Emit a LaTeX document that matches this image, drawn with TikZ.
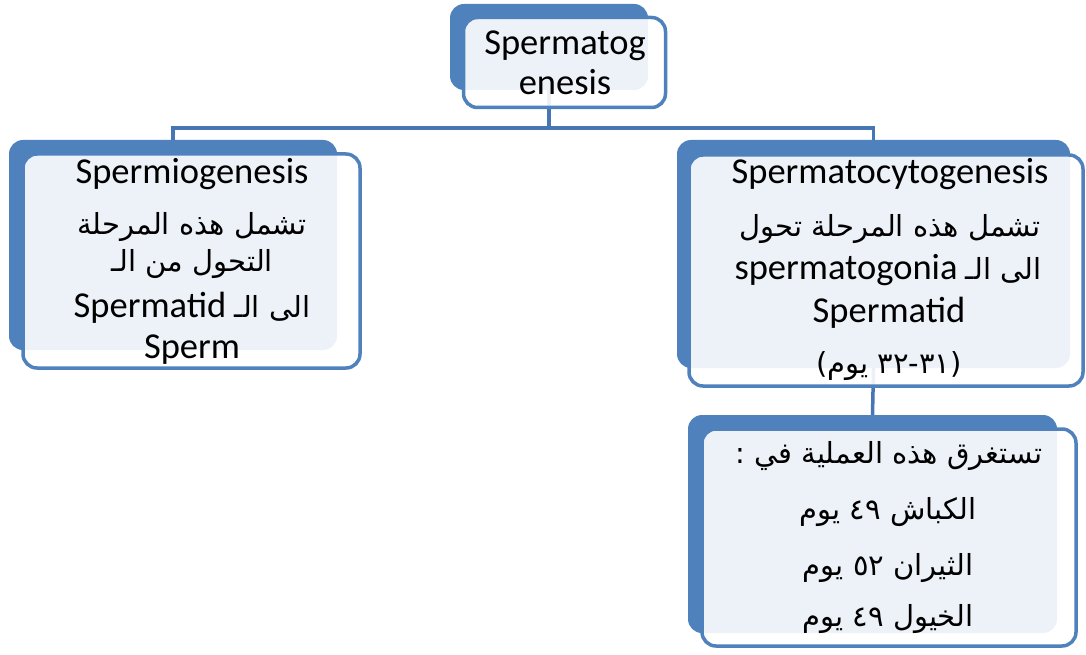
\documentclass[tikz,border=0pt]{standalone}
\usepackage{fontspec}
\setmainfont{Carlito}
\newfontfamily\arfont[Script=Arabic]{DejaVu Sans}
\newfontfamily\numfont{DejaVu Sans}
\TeXXeTstate=1
\usetikzlibrary{backgrounds}
\definecolor{boxblue}{HTML}{4F81BD}
\definecolor{lineblue}{HTML}{4677B4}
\newcommand{\arsz}{\arfont\fontsize{29}{34}\selectfont}
\newcommand{\nm}[1]{\hbox{\numfont\fontsize{29}{34}\selectfont #1}}
\begin{document}
\begin{tikzpicture}[x=1pt,y=-1pt,
  backbox/.style={fill=boxblue, rounded corners=14pt, inner sep=0pt, outer sep=0pt},
  frontbox/.style={draw=boxblue, line width=3.5pt, fill=white, fill opacity=0.9, rounded corners=14pt, inner sep=0pt, outer sep=0pt},
  conn/.style={draw=lineblue, line width=3.5pt},
  lat/.style={font=\fontsize{36.5}{40}\selectfont, anchor=base, inner sep=0pt, text=black},
  arb/.style={font=\arsz, anchor=base, inner sep=0pt, text=black}]
\useasboundingbox (0,0) rectangle (1086,655);
% top
\node[backbox, minimum width=198pt, minimum height=86pt] (topB) at (549,47) {};
\node[frontbox, minimum width=202pt, minimum height=90pt] (topF) at (564.5,62.5) {};
% left
\node[backbox, minimum width=328pt, minimum height=210pt] (leftB) at (173,245) {};
\node[frontbox, minimum width=337pt, minimum height=214pt] (leftF) at (191.5,261) {};
% right
\node[backbox, minimum width=393pt, minimum height=228pt] (rightB) at (873.5,254) {};
\node[frontbox, minimum width=394pt, minimum height=231pt] (rightF) at (886,270.5) {};
% bottom
\node[backbox, minimum width=369pt, minimum height=218pt] (botB) at (872.5,524) {};
\node[frontbox, minimum width=374pt, minimum height=217pt] (botF) at (889,537.5) {};
% connectors
\begin{scope}[on background layer]
\coordinate (hub) at (549,128);
\draw[conn] (topB.south) -- (hub);
\draw[conn] (hub) -| (leftB.north);
\draw[conn] (hub) -| (rightB.north);
\draw[conn] (rightB.south) -- (botB.north);
\end{scope}
% texts top
\node[lat] (t1) at (565,55) {Spermatog};
\node[lat] (t2) at (565,95) {enesis};
% texts left
\node[lat] (l1) at (192,183) {Spermiogenesis};
\node[arb] (l2) at (192,234) {\beginR تشمل هذه المرحلة\endR};
\node[arb] (l3) at (192,271) {\beginR التحول من الـ\endR};
\node[lat] (l4) at (192,317) {Spermatid {\arsz\beginR الى الـ\endR}};
\node[lat] (l5) at (192,358) {Sperm};
% texts right
\node[lat] (r1) at (890,183) {Spermatocytogenesis};
\node[arb] (r2) at (890,236) {\beginR تشمل هذه المرحلة تحول\endR};
\node[lat] (r3) at (888,279) {spermatogonia {\arsz\beginR الى الـ\endR}};
\node[lat] (r4) at (889,322) {Spermatid};
\node[arb] (r5) at (889,373) {\beginR\nm{)}\nm{٣١}\nm{-}\nm{٣٢} \hbox{يوم}\nm{(}\endR};
% texts bottom
\node[arb] (b1) at (889,463) {\beginR تستغرق هذه العملية في :\endR};
\node[arb] (b2) at (888,519) {\beginR الكباش ٤٩ يوم\endR};
\node[arb] (b3) at (888,575) {\beginR الثيران ٥٢ يوم\endR};
\node[arb] (b4) at (888,626) {\beginR الخيول ٤٩ يوم\endR};
\end{tikzpicture}
\end{document}
